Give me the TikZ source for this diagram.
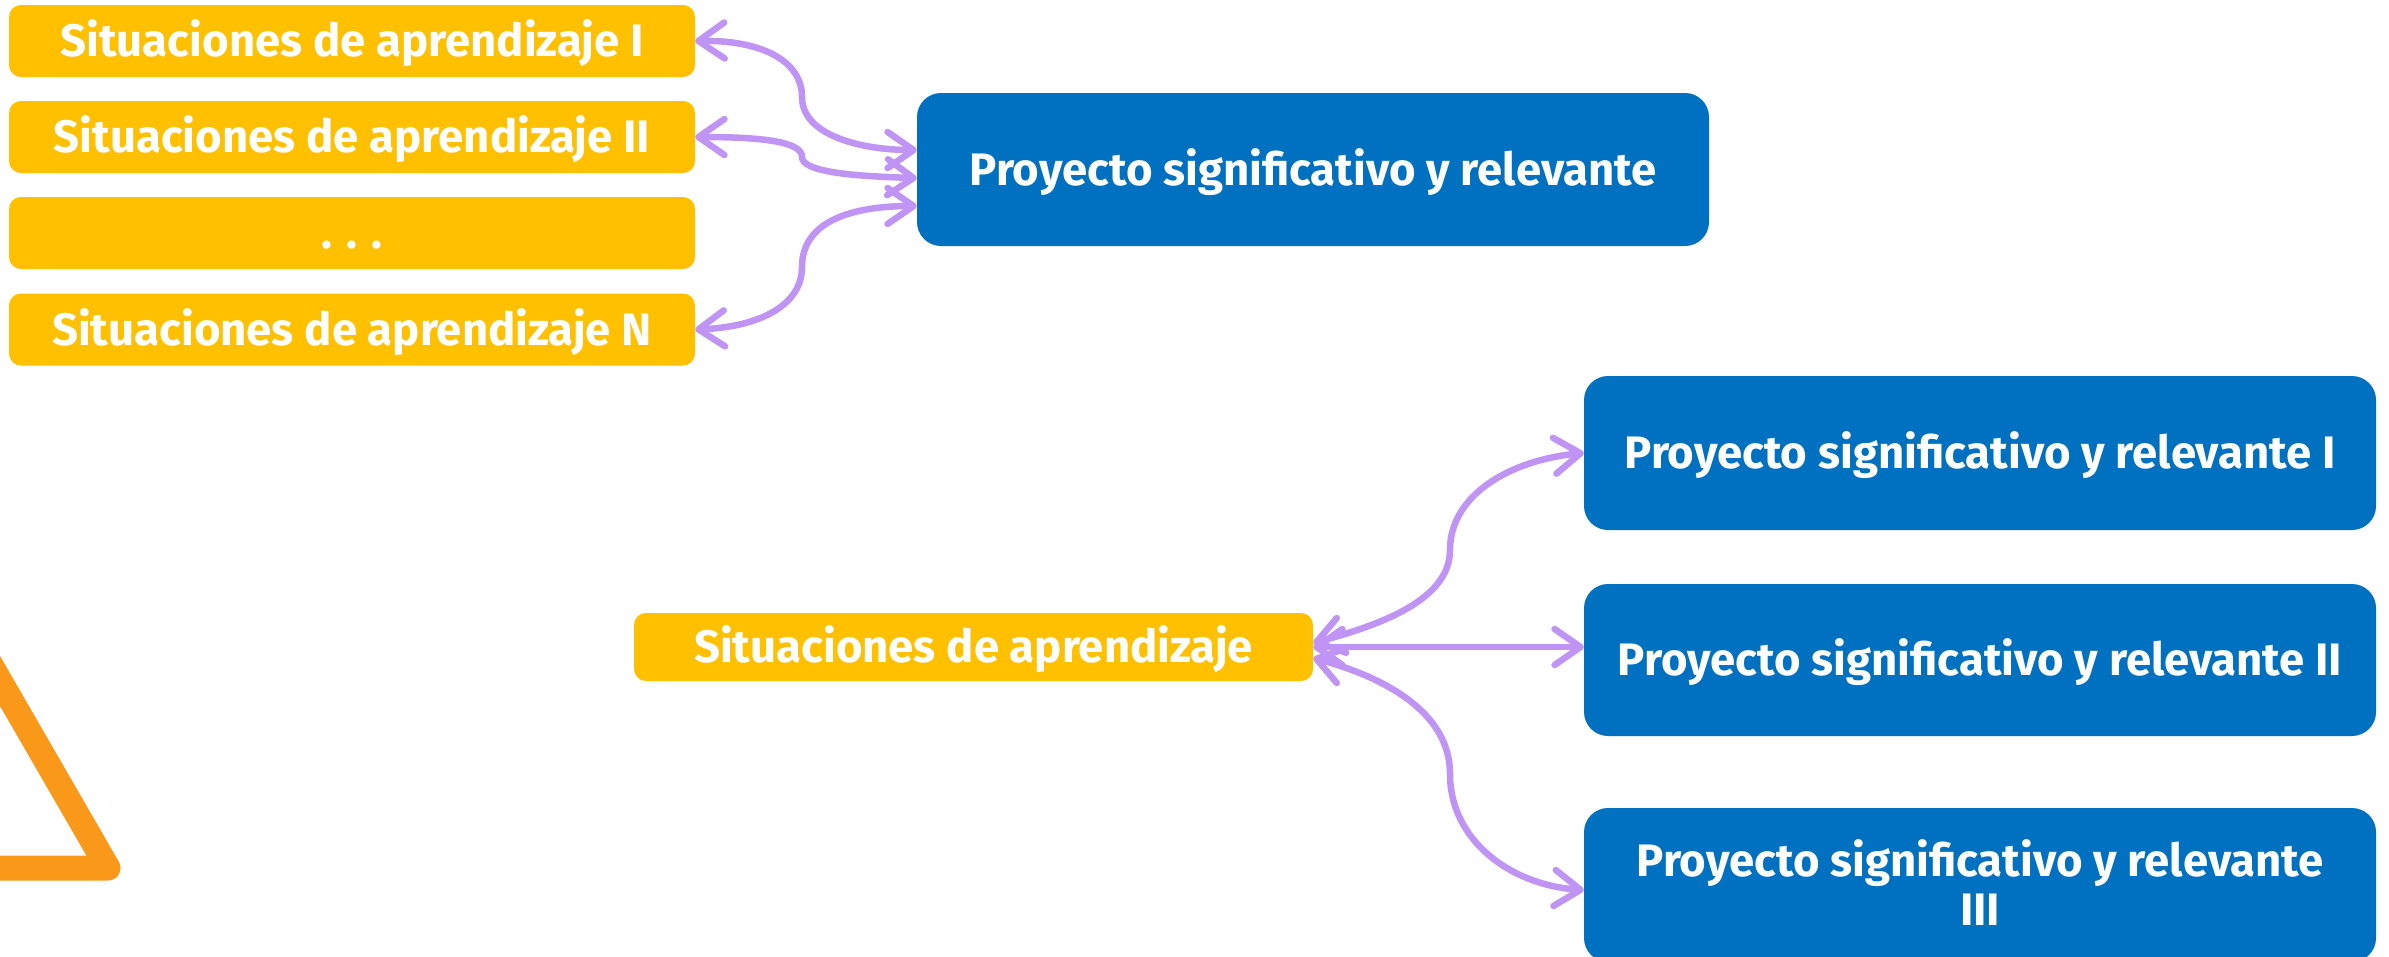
\documentclass[tikz,border=0pt]{standalone}
\usepackage{fontspec}
\setmainfont{Fira Sans}
\usetikzlibrary{arrows.meta,calc}
\definecolor{ybox}{HTML}{FFC000}
\definecolor{bbox}{HTML}{0070C0}
\definecolor{conn}{HTML}{BF94F5}
\definecolor{tri}{HTML}{FA981A}
\tikzset{
  barbs/.tip={Straight Barb[length=26pt,width=36pt,round]},
  lbl/.style={text=white,font=\fontsize{45.5}{49}\selectfont\bfseries},
  ybx/.style={lbl,fill=ybox,rounded corners=12pt,inner sep=0pt,text height=31pt,text depth=0pt},
  bbx/.style={lbl,fill=bbox,rounded corners=24pt,inner sep=0pt,minimum width=792pt,text height=31pt,text depth=0pt},
  link/.style={draw=conn,line width=6.5pt,barbs-barbs},
}
\begin{document}
\begin{tikzpicture}[x=1pt,y=-1pt]
\useasboundingbox (0,0) rectangle (2389,956);
% triangle
\draw[tri,line width=25pt,line join=round] (-292,868) -- (108,868) -- (-92,521.6) -- cycle;
% left column
\node[ybx,minimum width=686pt,minimum height=72pt] (s1) at (352,41) {Situaciones de aprendizaje I};
\node[ybx,minimum width=686pt,minimum height=72pt] (s2) at (352,137) {Situaciones de aprendizaje II};
\node[ybx,minimum width=686pt,minimum height=72pt] (s3) at (352,233) {. . .};
\node[ybx,minimum width=686pt,minimum height=72pt] (s4) at (352,329.5) {Situaciones de aprendizaje N};
\node[bbx,minimum height=153pt] (P) at (1313,169.5) {Proyecto significativo y relevante};
% right group
\node[ybx,minimum width=679pt,minimum height=68pt] (S) at (973.5,647) {Situaciones de aprendizaje};
\node[bbx,minimum height=154pt] (R1) at (1980,453) {Proyecto significativo y relevante I};
\node[bbx,minimum height=152pt] (R2) at (1980,660) {Proyecto significativo y relevante II};
\node[bbx,minimum height=154pt,align=center,text height=80pt,text depth=0pt] (R3) at (1980,885) {Proyecto significativo y relevante\\III};
% connector ends
\coordinate (P1) at ($(P.west)+(0,-19.5)$);
\coordinate (P2) at ($(P.west)+(0,8.5)$);
\coordinate (P3) at ($(P.west)+(0,36.5)$);
\coordinate (Q1) at ($(S.east)+(0,-4)$);
\coordinate (Q3) at ($(S.east)+(0,11)$);
\coordinate (R2e) at (R2.west |- S.east);
\coordinate (R3e) at ($(R3.west)+(0,5)$);
% left connectors
\draw[link] (s1.east) .. controls (760,40) and (802,60) .. (802,97) .. controls (802,135) and (860,150) .. (P1);
\draw[link] (s2.east) .. controls (770,137) and (802,143) .. (802,157) .. controls (802,170) and (840,176) .. (P2);
\draw[link] (s4.east) .. controls (760,327) and (802,305) .. (802,267) .. controls (802,222) and (850,206) .. (P3);
% right connectors
\draw[link] (Q1) .. controls (1380,625) and (1450,600) .. (1450,550) .. controls (1450,495) and (1510,460) .. (R1.west);
\draw[link] (S.east) -- (R2e);
\draw[link] (Q3) .. controls (1380,676) and (1450,710) .. (1450,774) .. controls (1450,840) and (1510,885) .. (R3e);
\end{tikzpicture}
\end{document}
